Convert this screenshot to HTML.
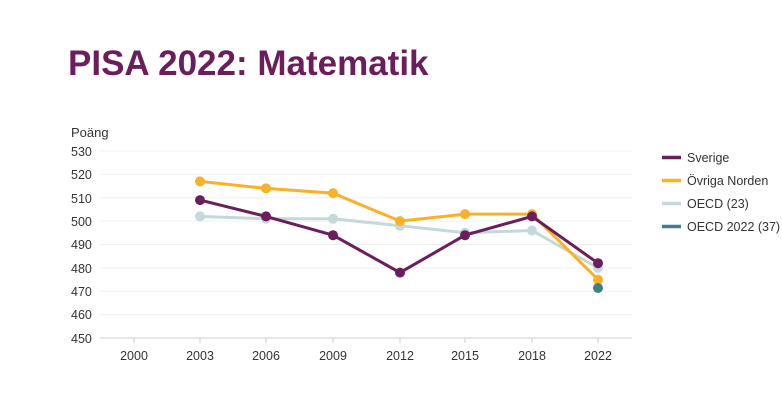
<!DOCTYPE html>
<html><head><meta charset="utf-8"><style>
body{margin:0;background:#fff;width:782px;height:404px;overflow:hidden;font-family:"Liberation Sans",sans-serif}
</style></head><body>
<svg width="782" height="404" xmlns="http://www.w3.org/2000/svg" font-family="Liberation Sans, sans-serif">
<text x="68" y="75" font-size="35" font-weight="bold" fill="#6b1d5c">PISA 2022: Matematik</text>
<text x="71" y="137" font-size="13" fill="#333">Poäng</text>
<g stroke="#f0f0f0" stroke-width="1">
<line x1="100" y1="151" x2="632" y2="151"/><line x1="100" y1="174.4" x2="632" y2="174.4"/><line x1="100" y1="197.8" x2="632" y2="197.8"/><line x1="100" y1="221.1" x2="632" y2="221.1"/><line x1="100" y1="244.5" x2="632" y2="244.5"/><line x1="100" y1="267.9" x2="632" y2="267.9"/><line x1="100" y1="291.3" x2="632" y2="291.3"/><line x1="100" y1="314.6" x2="632" y2="314.6"/>
</g>
<line x1="100" y1="338" x2="632" y2="338" stroke="#ccc"/>
<g stroke="#ccc"><line x1="134" y1="338" x2="134" y2="343"/><line x1="200" y1="338" x2="200" y2="343"/><line x1="266" y1="338" x2="266" y2="343"/><line x1="333" y1="338" x2="333" y2="343"/><line x1="400" y1="338" x2="400" y2="343"/><line x1="465" y1="338" x2="465" y2="343"/><line x1="532" y1="338" x2="532" y2="343"/><line x1="598" y1="338" x2="598" y2="343"/></g>
<g font-size="12.5" fill="#333">
<text x="71" y="156">530</text><text x="71" y="179">520</text><text x="71" y="203">510</text><text x="71" y="226">500</text><text x="71" y="249">490</text><text x="71" y="273">480</text><text x="71" y="296">470</text><text x="71" y="319">460</text><text x="71" y="343">450</text>
</g>
<g font-size="12.5" fill="#333" text-anchor="middle">
<text x="134" y="360">2000</text><text x="200" y="360">2003</text><text x="266" y="360">2006</text><text x="333" y="360">2009</text><text x="400" y="360">2012</text><text x="465" y="360">2015</text><text x="532" y="360">2018</text><text x="598" y="360">2022</text>
</g>
<polyline fill="none" stroke="#c5d9da" stroke-width="3" points="200,216.4 266,218.8 333,218.8 400,225.8 465,232.8 532,230.5 598,267.9"/>
<g fill="#c5d9da"><circle cx="200" cy="216.4" r="5"/><circle cx="266" cy="218.8" r="5"/><circle cx="333" cy="218.8" r="5"/><circle cx="400" cy="225.8" r="5"/><circle cx="465" cy="232.8" r="5"/><circle cx="532" cy="230.5" r="5"/><circle cx="598" cy="267.9" r="5"/></g>
<polyline fill="none" stroke="#f9b125" stroke-width="3" points="200,181.4 266,188.4 333,193.1 400,221.1 465,214.1 532,214.1 598,279.6"/>
<g fill="#f9b125"><circle cx="200" cy="181.4" r="5"/><circle cx="266" cy="188.4" r="5"/><circle cx="333" cy="193.1" r="5"/><circle cx="400" cy="221.1" r="5"/><circle cx="465" cy="214.1" r="5"/><circle cx="532" cy="214.1" r="5"/><circle cx="598" cy="279.6" r="5"/></g>
<polyline fill="none" stroke="#6b1d5c" stroke-width="3" points="200,200.1 266,216.4 333,235.2 400,272.6 465,235.2 532,216.4 598,263.2"/>
<g fill="#6b1d5c"><circle cx="200" cy="200.1" r="5"/><circle cx="266" cy="216.4" r="5"/><circle cx="333" cy="235.2" r="5"/><circle cx="400" cy="272.6" r="5"/><circle cx="465" cy="235.2" r="5"/><circle cx="532" cy="216.4" r="5"/><circle cx="598" cy="263.2" r="5"/></g>
<circle cx="598" cy="288" r="5" fill="#3f7f87"/>
<g stroke-width="3.5"><line x1="662" y1="157.5" x2="681" y2="157.5" stroke="#6b1d5c"/><line x1="662" y1="180.5" x2="681" y2="180.5" stroke="#f9b125"/><line x1="662" y1="203.5" x2="681" y2="203.5" stroke="#c5d9da"/><line x1="662" y1="226.5" x2="681" y2="226.5" stroke="#3f7f87"/></g>
<g font-size="12.5" fill="#333"><text x="687" y="162">Sverige</text><text x="687" y="185">Övriga Norden</text><text x="687" y="208">OECD (23)</text><text x="687" y="231">OECD 2022 (37)</text></g>
</svg>
</body></html>
